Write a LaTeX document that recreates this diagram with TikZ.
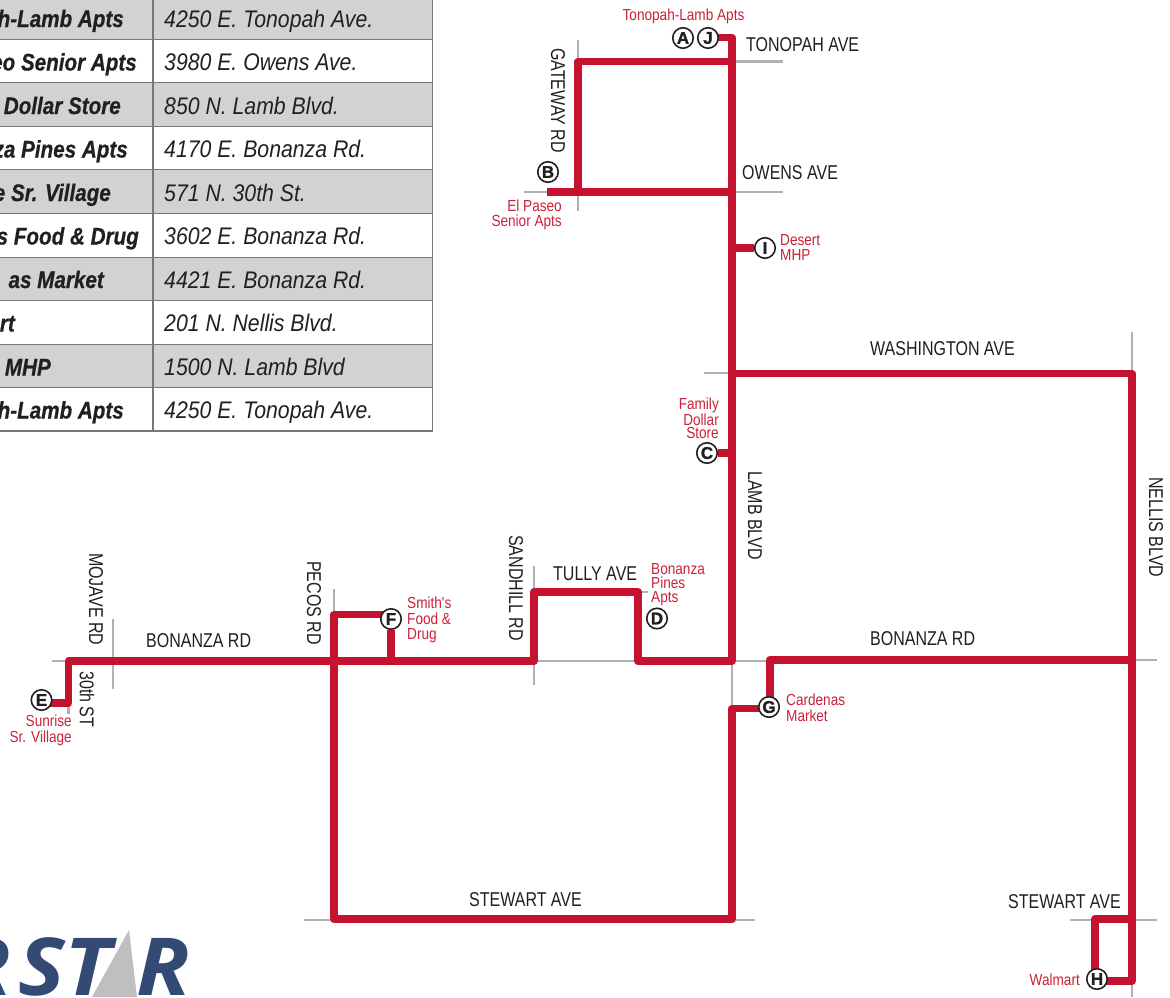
\documentclass[tikz,border=0pt]{standalone}
\usepackage{fontspec}
\setmainfont{Liberation Sans}
\newfontfamily\narf[FakeStretch=0.80]{Liberation Sans}
\newfontfamily\redf[FakeStretch=0.85]{Liberation Sans}
\newfontfamily\addrf[FakeStretch=0.885]{Liberation Sans}
\newfontfamily\namef[FakeStretch=0.86,FakeBold=0.6]{Liberation Sans}
\newfontfamily\stopf[FakeBold=1.5]{Liberation Sans}
\newfontfamily\logof[FakeStretch=1.1]{Open Sans}
\definecolor{routered}{HTML}{C4122F}
\definecolor{labelred}{HTML}{CB2239}
\definecolor{roadgray}{HTML}{B0B1B5}
\definecolor{inkdark}{HTML}{231F20}
\definecolor{rowgray}{HTML}{D1D2D4}
\definecolor{tablerule}{HTML}{77787B}
\definecolor{logoblue}{HTML}{334A75}
\definecolor{logogray}{HTML}{BFBFBF}
\pgfdeclarelayer{under}
\pgfsetlayers{under,main}
\tikzset{
  road/.style={draw=roadgray,line width=2.4pt},
  route/.style={draw=routered,line width=7.8pt,line join=round},
  stopmark/.style={circle,draw=inkdark,line width=1.6pt,fill=white,minimum size=20.5pt,inner sep=0pt,
     text=inkdark,font=\stopf\fontsize{17}{17}\selectfont\bfseries},
  streetlabel/.style={inner sep=0pt,text=inkdark,font=\narf\fontsize{20}{20}\selectfont},
  vstreet/.style={streetlabel,rotate=-90},
  placelabel/.style={inner sep=0pt,text=labelred,font=\redf\fontsize{16}{14}\selectfont},
  placewide/.style={placelabel,font=\redf\fontsize{16}{15.5}\selectfont},
  namecell/.style={anchor=base east,inner sep=0pt,text=inkdark,font=\namef\fontsize{24}{24}\selectfont\bfseries\itshape},
  addrcell/.style={anchor=base west,inner sep=0pt,text=inkdark,font=\addrf\fontsize{24}{24}\selectfont\itshape},
  logotext/.style={anchor=base west,inner sep=0pt,text=logoblue,font=\logof\fontsize{80}{80}\selectfont\bfseries\itshape},
}
\begin{document}
\begin{tikzpicture}[x=1pt,y=-1pt]
\path[clip] (0,0) rectangle (1170,997);
% table
\foreach \ya/\yb/\c in {-4/39.5/rowgray,39.5/82.5/white,82.5/126/rowgray,126/169.5/white,169.5/213.5/rowgray,213.5/257/white,257/300.5/rowgray,300.5/344/white,344/387.5/rowgray,387.5/431/white}{
  \fill[\c] (-1,\ya) rectangle (432.5,\yb);
}
\foreach \yb in {39.5,82.5,126,169.5,213.5,257,300.5,344,387.5}{
  \draw[tablerule,line width=1pt] (-1,\yb) -- (432.5,\yb);
}
\draw[tablerule,line width=1.2pt] (153,-4) -- (153,431);
\draw[tablerule,line width=1.2pt] (432.5,-4) -- (432.5,431) -- (-1,431);
\node[namecell] (n1) at (124,27) {h-Lamb Apts};
\node[namecell] (n2) at (137,70.5) {eo Senior Apts};
\node[namecell] (n3) at (121,114) {Dollar Store};
\node[namecell] (n4) at (128,157.5) {za Pines Apts};
\node[namecell] (n5) at (111,201) {e Sr. Village};
\node[namecell] (n6) at (139,244.5) {s Food \& Drug};
\node[namecell] (n7) at (104,288) {as Market};
\node[namecell] (n8) at (15,331.5) {rt};
\node[namecell] (n9) at (51,375.5) {MHP};
\node[namecell] (n10) at (124,418.5) {h-Lamb Apts};
\node[addrcell] (a1) at (164,27) {4250 E. Tonopah Ave.};
\node[addrcell] (a2) at (164,70.5) {3980 E. Owens Ave.};
\node[addrcell] (a3) at (164,114) {850 N. Lamb Blvd.};
\node[addrcell] (a4) at (164,157.5) {4170 E. Bonanza Rd.};
\node[addrcell] (a5) at (164,201) {571 N. 30th St.};
\node[addrcell] (a6) at (164,244.5) {3602 E. Bonanza Rd.};
\node[addrcell] (a7) at (164,288) {4421 E. Bonanza Rd.};
\node[addrcell] (a8) at (164,331.5) {201 N. Nellis Blvd.};
\node[addrcell] (a9) at (164,375.5) {1500 N. Lamb Blvd};
\node[addrcell] (a10) at (164,418.5) {4250 E. Tonopah Ave.};
% logo
\node[logotext] (lr1) at (-43,995) {R};
\node[logotext] (lst) at (18,995) {ST};
\node[logotext] (lr2) at (136,995) {R};
\fill[logogray] (92,997) -- (129,930) -- (137,997) -- cycle;
% named points
\coordinate (top) at (732,37.5);
\coordinate (tonoW) at (578,61.5);
\coordinate (tonoE) at (732,61.5);
\coordinate (owensW) at (547,192);
\coordinate (gateS) at (578,192);
\coordinate (owensE) at (732,192);
\coordinate (desJ) at (732,248);
\coordinate (washW) at (732,373.5);
\coordinate (washE) at (1132,373.5);
\coordinate (cJ) at (732,453);
\coordinate (lambS) at (732,661);
\coordinate (tullyS) at (638,661);
\coordinate (tullyE) at (638,592);
\coordinate (tullyW) at (534,592);
\coordinate (sandS) at (534,661);
\coordinate (pecosN) at (334,614.5);
\coordinate (pecosS) at (334,919);
\coordinate (fN) at (391,614.5);
\coordinate (fS) at (391,661);
\coordinate (bonW) at (68.5,661);
\coordinate (thirtyS) at (68.5,703);
\coordinate (stewE) at (732,919);
\coordinate (gW) at (732,708.5);
\coordinate (gN) at (770,660);
\coordinate (nellB) at (1132,660);
\coordinate (nellS) at (1132,981);
\coordinate (walN) at (1095,919);
\coordinate (nellSt) at (1132,919);
% stops
\node[stopmark] (A) at (683,38) {A};
\node[stopmark] (J) at (708,38) {J};
\node[stopmark] (B) at (548,172) {B};
\node[stopmark] (C) at (707,453) {C};
\node[stopmark] (D) at (657,618.5) {D};
\node[stopmark] (E) at (41.5,700) {E};
\node[stopmark] (F) at (391,619) {F};
\node[stopmark] (G) at (769,707) {G};
\node[stopmark] (H) at (1097,979) {H};
\node[stopmark] (I) at (765,248) {I};
\begin{pgfonlayer}{under}
\fill[white] (0,0) rectangle (1170,997);
% roads
\draw[road] (578,40) -- (578,211);
\draw[road] (732,61.5) -- (783,61.5);
\draw[road] (524,192) -- (783,192);
\draw[road] (704,373) -- (732,373);
\draw[road] (1132,332) -- (1132,997);
\draw[road] (1132,660) -- (1157,660);
\draw[road] (52,661) -- (68,661);
\draw[road] (68.5,703) -- (68.5,714);
\draw[road] (112.7,619) -- (112.7,689);
\draw[road] (334,589) -- (334,615);
\draw[road] (534,566) -- (534,685);
\draw[road] (534,661) -- (638,661);
\draw[road] (732,661) -- (770,661);
\draw[road] (732,661) -- (732,708);
\draw[road] (638,592) -- (648,592);
\draw[road] (304,920) -- (755,920);
\draw[road] (1070,920) -- (1157,920);
% routes
\draw[route] (J.center |- top) -- (top) -- (lambS) -- (tullyS) -- (tullyE) -- (tullyW) -- (sandS) -- (bonW) -- (thirtyS) -- (E.center |- thirtyS);
\draw[route] (tonoE) -- (tonoW) -- (gateS);
\draw[route] (owensW) -- (owensE);
\draw[route] (desJ) -- (I);
\draw[route] (washW) -- (washE) -- (nellS) -- (H.center |- nellS);
\draw[route] (cJ) -- (C);
\draw[route] (F.center |- fN) -- (pecosN) -- (pecosS) -- (stewE) -- (gW) -- (G.center |- gW);
\draw[route] (F) -- (fS);
\draw[route] (G.center -| gN) -- (gN) -- (nellB);
\draw[route] (nellSt) -- (walN) -- (H.center -| walN);
\end{pgfonlayer}
% street labels
\node[streetlabel,anchor=west] (l1) at (746,44.5) {TONOPAH AVE};
\node[streetlabel,anchor=west] (l2) at (742,173) {OWENS AVE};
\node[streetlabel,anchor=west] (l3) at (870,348.5) {WASHINGTON AVE};
\node[streetlabel,anchor=west] (l4) at (553,574) {TULLY AVE};
\node[streetlabel,anchor=west] (l5) at (146,641) {BONANZA RD};
\node[streetlabel,anchor=west] (l6) at (870,639) {BONANZA RD};
\node[streetlabel,anchor=west] (l7) at (469,899.5) {STEWART AVE};
\node[streetlabel,anchor=west] (l8) at (1008,902) {STEWART AVE};
\node[vstreet,anchor=west] (v1) at (558,48) {GATEWAY RD};
\node[vstreet,anchor=west] (v2) at (96,553) {MOJAVE RD};
\node[vstreet,anchor=west] (v3) at (87,671) {30th ST};
\node[vstreet,anchor=west] (v4) at (314,561) {PECOS RD};
\node[vstreet,anchor=west] (v5) at (516,535) {SANDHILL RD};
\node[vstreet,anchor=west] (v6) at (755,471) {LAMB BLVD};
\node[vstreet,anchor=west] (v7) at (1156,477) {NELLIS BLVD};
% place labels
\node[placelabel,anchor=center] (p1) at (683.5,16.5) {Tonopah-Lamb Apts};
\node[placewide,anchor=north east,align=right] (p2) at (562,199.5) {El Paseo\\Senior Apts};
\node[placewide,anchor=west,align=left] (p3) at (780,247.5) {Desert\\MHP};
\node[placelabel,anchor=north east,align=right,font=\redf\fontsize{16}{13.5}\selectfont] (p4) at (719,397.5) {Family\\Dollar\\Store};
\node[placelabel,anchor=north west,align=left] (p5) at (651,563) {Bonanza\\Pines\\Apts};
\node[placewide,anchor=north west,align=left] (p6) at (407,597) {Smith's\\Food \&\\Drug};
\node[placewide,anchor=north east,align=right] (p7) at (72,715) {Sunrise\\Sr. Village};
\node[placewide,anchor=north west,align=left] (p8) at (786,694) {Cardenas\\Market};
\node[placelabel,anchor=east] (p9) at (1080,980) {Walmart};
\end{tikzpicture}
\end{document}
